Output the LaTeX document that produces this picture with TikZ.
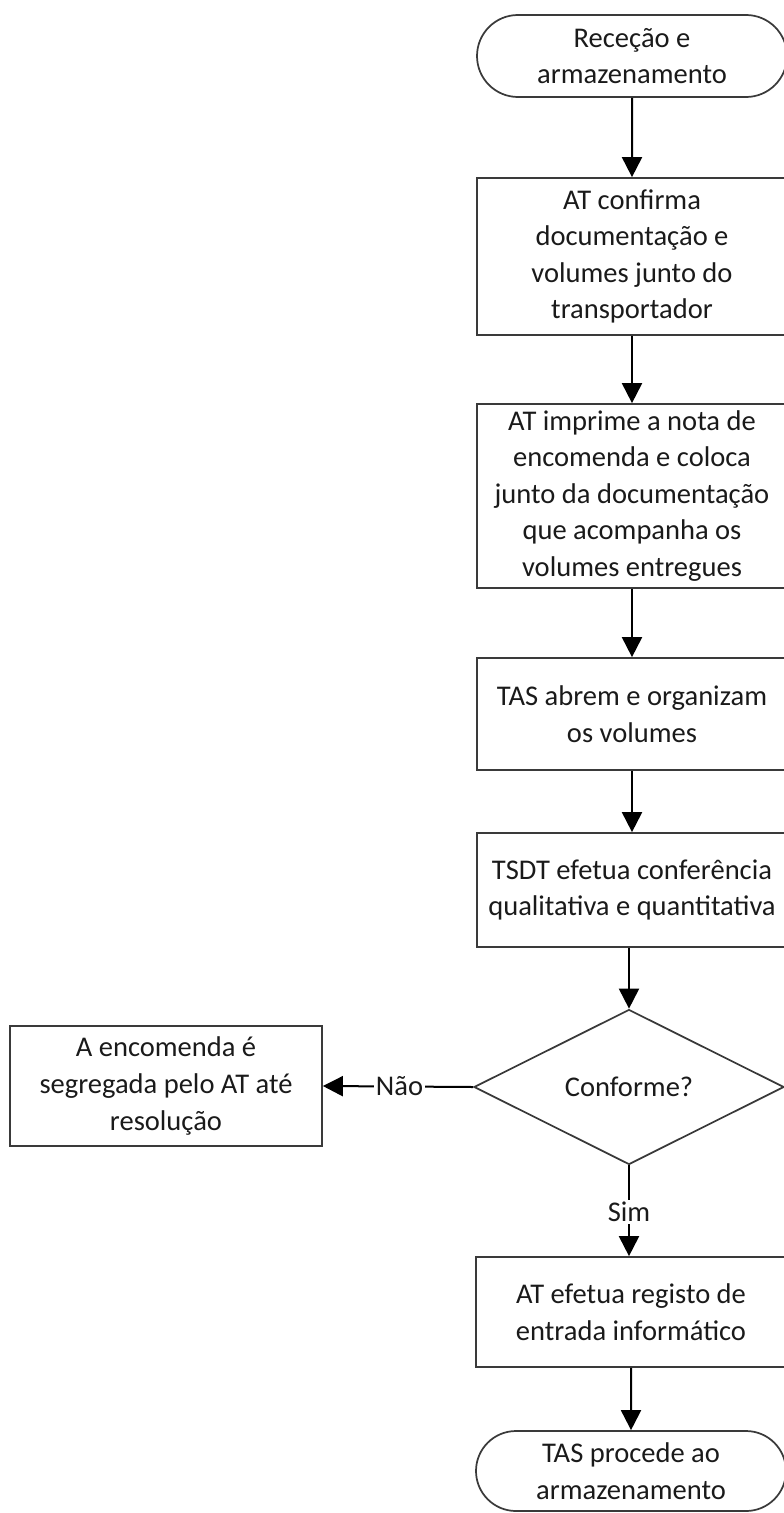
\documentclass[tikz,border=0pt]{standalone}
\usepackage{fontspec}
\setmainfont{Carlito}
\usetikzlibrary{shapes.misc,shapes.geometric,arrows.meta}
\definecolor{ink}{HTML}{1A1A1A}
\definecolor{edge}{HTML}{3A3A3A}
\begin{document}
\begin{tikzpicture}[x=0.75pt,y=-0.75pt,
  every node/.style={font=\fontsize{21.4}{27.4}\selectfont, text=ink, align=center},
  terminal/.style={rounded rectangle, draw=edge, line width=1.3pt, minimum width=232.5pt, inner sep=0pt},
  stepbox/.style={rectangle, draw=edge, line width=1.3pt, minimum width=232.5pt, inner sep=0pt},
  decision/.style={diamond, draw=edge, line width=1.3pt, minimum width=232.5pt, minimum height=116.25pt, aspect=2, inner sep=0pt},
  flow/.style={draw=black, line width=1.5pt, -{Triangle[length=15pt,width=15pt]}},
  lbl/.style={fill=white, inner sep=1.5pt}]
\useasboundingbox (0,0) rectangle (784,1513);
\clip (0,0) rectangle (784,1513);

\node[terminal, minimum height=61.5pt] (start) at (632,56) {Receção e\\armazenamento};
\node[stepbox, minimum height=117.75pt] (b1) at (632,256.5) {AT confirma\\documentação e\\volumes junto do\\transportador};
\node[stepbox, minimum height=138pt] (b2) at (632,496) {AT imprime a nota de\\encomenda e coloca\\junto da documentação\\que acompanha os\\volumes entregues};
\node[stepbox, minimum height=84pt] (b3) at (632,714) {TAS abrem e organizam\\os volumes};
\node[stepbox, minimum height=85.5pt] (b4) at (632,890) {TSDT efetua conferência\\qualitativa e quantitativa};
\node[decision] (dec) at (629,1087) {Conforme?};
\node[stepbox, minimum width=234pt, minimum height=90pt] (seg) at (166,1086) {A encomenda é\\segregada pelo AT até\\resolução};
\node[stepbox, minimum height=82.5pt] (b6) at (631,1312) {AT efetua registo de\\entrada informático};
\node[terminal, minimum height=60pt] (stop) at (631,1471) {TAS procede ao\\armazenamento};

\draw[flow] (start) -- (b1);
\draw[flow] (b1) -- (b2);
\draw[flow] (b2) -- (b3);
\draw[flow] (b3) -- (b4);
\draw[flow] (b4.south -| dec.north) -- (dec.north);
\draw[flow] (dec.west) -- node[lbl, pos=0.49] {Não} (seg.east);
\draw[flow] (dec.south) -- node[lbl, pos=0.51] {Sim} (dec.south |- b6.north);
\draw[flow] (b6) -- (stop);
\end{tikzpicture}
\end{document}
